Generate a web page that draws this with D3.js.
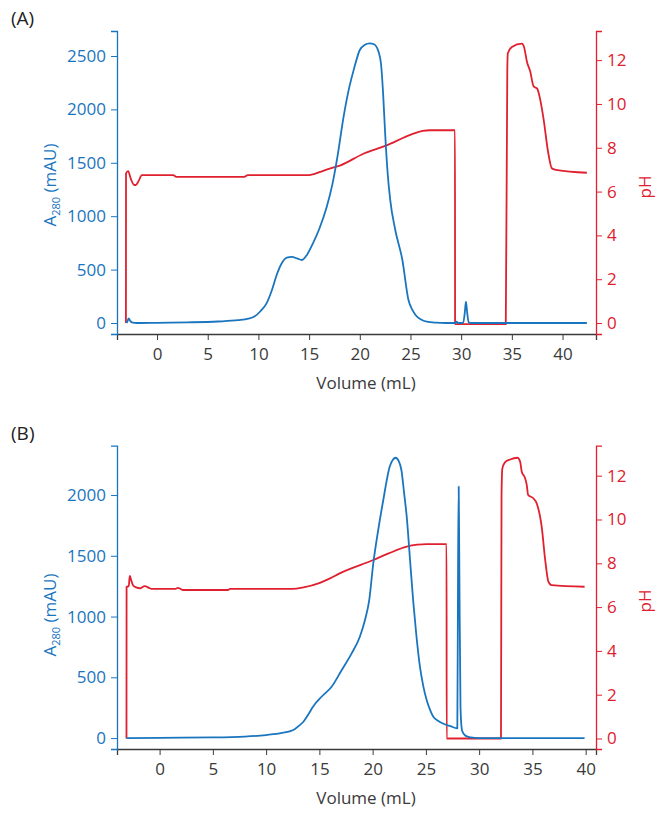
<!DOCTYPE html>
<html><head><meta charset="utf-8">
<script src="https://cdn.jsdelivr.net/npm/d3@7"></script>
<style>
body{margin:0;background:#fff;}
text{font-family:"Open Sans","Noto Sans",sans-serif;font-weight:400;}
</style></head>
<body><svg id="c" width="667" height="814"></svg>
<script>
// ---------- DATA ----------
const xTicks = [0,5,10,15,20,25,30,35,40];
const phTicks = [0,2,4,6,8,10,12];
const aTicksA = [0,500,1000,1500,2000,2500];
const aTicksB = [0,500,1000,1500,2000];

// Panel A: A280 (mAU) vs volume (mL)
const volA_abs = [-3.0,-2.9,-2.8,-2.65,-2.4,-2,0,3,6,8,9,9.6,10.2,10.8,11.3,11.8,12.3,12.8,13.3,13.8,14.3,14.8,15.4,16.0,16.75,17.3,17.8,18.4,18.9,19.4,20.0,20.5,20.96,21.4,21.85,22.1,22.3,22.5,22.75,23.0,23.5,24.2,24.8,25.2,25.5,26.0,26.6,27.5,28.5,29.4,29.55,29.7,30.2,30.35,30.47,30.6,30.75,31,42.4];
const absA = [0,20,44,20,3,0,2,6,14,26,40,60,110,184,300,450,560,612,620,605,590,640,750,880,1090,1300,1560,1930,2180,2370,2556,2605,2619,2610,2540,2420,2150,1776,1400,1152,871,590,215,120,75,35,12,3,0,0,12,0,2,90,199,90,5,0,0];
// Panel A: pH
const volA_ph = [-3.07,-3.06,-2.85,-2.6,-2.3,-2.1,-1.8,-1.5,1.6,1.9,8.6,8.95,14.95,15.5,16.1,17.1,18.1,20.4,22.7,24.5,25.3,26.2,26.95,29.39,29.4,34.4,34.55,34.6,35.0,36.0,36.2,36.5,36.8,37.15,37.5,37.75,38.1,38.6,38.95,39.5,42.4];
const phA = [0,6.83,6.93,6.6,6.32,6.3,6.5,6.75,6.75,6.67,6.67,6.75,6.75,6.8,6.9,7.06,7.2,7.74,8.12,8.5,8.65,8.77,8.8,8.8,-0.05,-0.05,11.5,12.3,12.6,12.75,12.6,11.9,11.5,10.8,10.7,10.3,9.4,7.74,7.06,6.98,6.86];

// Panel B: A280 (mAU)
const volB_abs = [-3.1,0,5,8,10,11.5,12.55,13.0,13.5,14.0,14.4,15.2,16.15,17.1,18.03,18.8,19.28,19.68,20.06,20.5,21.0,21.6,21.9,22.16,22.45,22.7,22.95,23.2,23.5,23.8,24.1,24.44,24.75,25.07,25.4,25.7,26.1,26.6,27.3,27.95,28.02,28.08,28.14,28.25,28.4,28.7,29.2,30,39.9];
const absB = [0,2,5,12,25,42,66,95,134,200,258,340,422,560,697,834,971,1136,1438,1700,1959,2233,2290,2307,2280,2206,2020,1822,1480,1136,850,587,430,313,230,175,145,120,98,80,1400,2070,1400,250,60,20,6,0,0];
// Panel B: pH
const volB_ph = [-3.11,-3.1,-2.9,-2.8,-2.65,-2.5,-2.2,-1.85,-1.4,-1.0,-0.75,1.5,1.7,1.9,2.2,6.45,6.6,12.5,13.5,15.05,16.0,16.9,20.06,21.5,23.2,24.2,25.07,26.94,26.95,32.05,32.1,32.17,32.4,32.9,33.6,33.85,34.0,34.3,34.46,34.6,35.08,35.4,35.87,36.2,36.5,36.8,39.9];
const phB = [0,6.93,6.95,7.42,7.2,7.0,6.9,6.86,6.96,6.88,6.83,6.83,6.88,6.85,6.78,6.78,6.83,6.83,6.9,7.11,7.31,7.54,8.15,8.45,8.76,8.85,8.88,8.88,0,0,11,12.3,12.6,12.74,12.82,12.64,12.18,11.9,11.6,11.12,10.97,10.74,9.67,8.15,7.16,7.0,6.93];

// ---------- DRAW ----------
const BLUE = "#1a75bf", RED = "#e0202f", GREY = "#3a3a3a";
const svg = d3.select("#c");
const fmt = d3.format("d");

function panel(o){
  const g = svg.append("g");
  const x = d3.scaleLinear().domain(o.xDom).range([117,596]);
  const yL = d3.scaleLinear().domain(o.yLDom).range([o.bottom,o.top]);
  const yR = d3.scaleLinear().domain(o.yRDom).range([o.bottom,o.top]);

  const ax = g.append("g").attr("transform",`translate(0,${o.bottom})`)
    .call(d3.axisBottom(x).tickValues(xTicks).tickFormat(fmt).tickSizeOuter(0).tickSize(6).tickPadding(8));
  ax.select(".domain").attr("stroke",GREY).attr("stroke-width",1.3);
  ax.selectAll(".tick line").attr("stroke",GREY);
  ax.selectAll(".tick text").attr("fill",GREY).style("font-size","17px");

  const al = g.append("g").attr("transform","translate(117,0)")
    .call(d3.axisLeft(yL).tickValues(o.aTicks).tickFormat(fmt).tickSizeOuter(0).tickSize(6).tickPadding(5));
  al.select(".domain").attr("stroke",BLUE).attr("stroke-width",1.3);
  al.selectAll(".tick line").attr("stroke",BLUE);
  al.selectAll(".tick text").attr("fill",BLUE).style("font-size","17px");

  const ar = g.append("g").attr("transform","translate(596,0)")
    .call(d3.axisRight(yR).tickValues(phTicks).tickFormat(fmt).tickSizeOuter(0).tickSize(6).tickPadding(5));
  ar.select(".domain").attr("stroke",RED).attr("stroke-width",1.3);
  ar.selectAll(".tick line").attr("stroke",RED);
  ar.selectAll(".tick text").attr("fill",RED).style("font-size","17px");

  const phLine = d3.line().x(d=>x(d[0])).y(d=>yR(d[1])).curve(d3.curveMonotoneX);
  const absLine = d3.line().x(d=>x(d[0])).y(d=>yL(d[1])).curve(d3.curveMonotoneX);
  g.append("path").datum(d3.zip(o.volPh,o.ph)).attr("d",phLine)
    .attr("fill","none").attr("stroke",RED).attr("stroke-width",1.8).attr("stroke-linejoin","round");
  g.append("path").datum(d3.zip(o.volAbs,o.abs)).attr("d",absLine)
    .attr("fill","none").attr("stroke",BLUE).attr("stroke-width",1.8).attr("stroke-linejoin","round");

  g.append("text").attr("x",11).attr("y",o.top-6).text(o.title)
    .attr("fill","#222").style("font-size","19px");
  g.append("text").attr("x",366).attr("y",o.bottom+55).attr("text-anchor","middle")
    .attr("fill",GREY).style("font-size","17px").text("Volume (mL)");

  const yl = g.append("text").attr("transform",`translate(56,${o.yLabelY}) rotate(-90)`)
    .attr("text-anchor","middle").attr("fill",BLUE).style("font-size","17px");
  yl.append("tspan").text("A");
  yl.append("tspan").text("280").style("font-size","11px").attr("dy",4);
  yl.append("tspan").text(" (mAU)").attr("dy",-4);

  g.append("text").attr("transform",`translate(651,${o.phLabelY}) rotate(-90)`)
    .attr("text-anchor","middle").attr("fill",RED).style("font-size","17px").text("pH");
}

panel({title:"(A)", top:31, bottom:334, xDom:[-3.95,43.3], yLDom:[-103,2734], yRDom:[-0.5,13.33],
  aTicks:aTicksA, volAbs:volA_abs, abs:absA, volPh:volA_ph, ph:phA, yLabelY:185, phLabelY:187});
panel({title:"(B)", top:445.7, bottom:749, xDom:[-4.0,40.97], yLDom:[-90,2406], yRDom:[-0.48,13.37],
  aTicks:aTicksB, volAbs:volB_abs, abs:absB, volPh:volB_ph, ph:phB, yLabelY:615, phLabelY:601});
</script></body></html>
